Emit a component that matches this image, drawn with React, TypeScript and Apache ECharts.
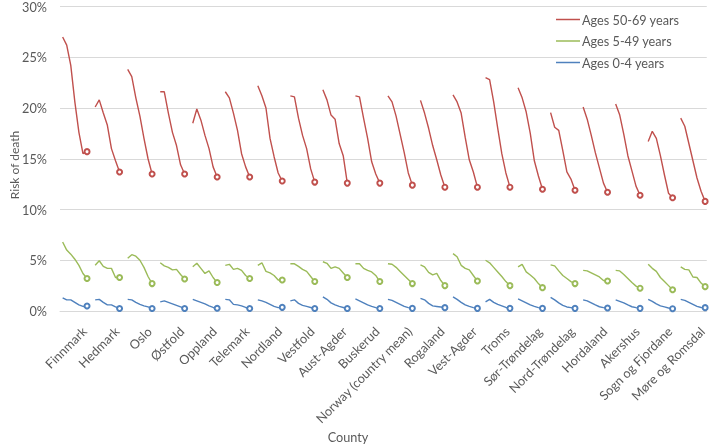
import React, { useEffect, useRef } from "react";
import * as echarts from "echarts";

const counties = [
  "Finnmark",
  "Hedmark",
  "Oslo",
  "Østfold",
  "Oppland",
  "Telemark",
  "Nordland",
  "Vestfold",
  "Aust-Agder",
  "Buskerud",
  "Norway (country mean)",
  "Rogaland",
  "Vest-Agder",
  "Troms",
  "Sør-Trøndelag",
  "Nord-Trøndelag",
  "Hordaland",
  "Akershus",
  "Sogn og Fjordane",
  "Møre og Romsdal",
];

const seriesNames = ["Ages 50-69 years", "Ages 5-49 years", "Ages 0-4 years"];
const seriesColors = ["#C0504D", "#9BBB59", "#4F81BD"];

const yTicks = [0, 5, 10, 15, 20, 25, 30];

// Risk of death (%), 7 points per county, in county order
const ages50to69 = [
  [27.0, 26.2, 24.2, 20.6, 17.6, 15.5, 15.7],
  [20.1, 20.8, 19.5, 18.3, 16.0, 14.8, 13.7],
  [23.8, 23.1, 21.0, 19.2, 17.0, 15.0, 13.5],
  [21.6, 21.6, 19.5, 17.6, 16.3, 14.4, 13.5],
  [18.5, 19.9, 18.8, 17.3, 16.0, 14.2, 13.2],
  [21.6, 21.0, 19.5, 17.8, 15.5, 14.2, 13.2],
  [22.2, 21.2, 20.0, 17.0, 15.2, 13.6, 12.8],
  [21.2, 21.1, 19.0, 17.3, 16.0, 14.0, 12.7],
  [21.8, 20.8, 19.3, 18.9, 16.5, 15.3, 12.6],
  [21.2, 21.1, 19.0, 17.0, 14.7, 13.5, 12.6],
  [21.2, 20.6, 19.2, 17.4, 15.6, 13.6, 12.4],
  [20.75, 19.5, 18.0, 16.3, 14.9, 13.4, 12.2],
  [21.3, 20.6, 19.5, 17.1, 14.9, 13.7, 12.2],
  [23.0, 22.8, 20.6, 18.0, 15.5, 13.6, 12.2],
  [22.0, 21.0, 19.6, 17.5, 14.8, 13.3, 12.0],
  [19.55, 18.1, 17.8, 15.8, 13.7, 13.0, 11.9],
  [20.1, 18.9, 17.3, 15.6, 14.1, 12.6, 11.7],
  [20.4, 19.3, 17.4, 15.3, 13.8, 12.3, 11.4],
  [16.7, 17.7, 17.0, 15.3, 13.4, 11.6, 11.15],
  [19.0, 18.2, 16.5, 14.8, 13.1, 11.8, 10.8],
];

const ages5to49 = [
  [6.8, 6.0, 5.6, 5.1, 4.5, 3.7, 3.2],
  [4.5, 4.95, 4.4, 4.2, 4.2, 3.3, 3.3],
  [5.2, 5.55, 5.4, 5.0, 4.3, 3.4, 2.7],
  [4.75, 4.45, 4.3, 4.05, 4.1, 3.6, 3.15],
  [4.35, 4.7, 4.2, 3.7, 3.95, 3.3, 2.8],
  [4.5, 4.6, 4.1, 4.2, 4.0, 3.5, 3.2],
  [4.5, 4.75, 3.9, 3.75, 3.5, 3.05, 3.05],
  [4.65, 4.65, 4.4, 4.1, 3.9, 3.4, 2.9],
  [4.85, 4.7, 4.2, 4.35, 4.2, 3.75, 3.3],
  [4.65, 4.65, 4.2, 4.0, 3.85, 3.5, 2.9],
  [4.65, 4.6, 4.3, 3.9, 3.5, 3.1, 2.7],
  [4.55, 4.35, 3.8, 3.55, 3.7, 3.0, 2.5],
  [5.65, 5.35, 4.5, 4.2, 4.05, 3.5, 2.95],
  [5.0, 4.75, 4.3, 3.85, 3.4, 2.9, 2.5],
  [4.35, 4.6, 3.85, 3.55, 3.2, 2.7, 2.3],
  [4.55, 4.45, 3.95, 3.5, 3.2, 2.9, 2.7],
  [4.0, 3.95, 3.75, 3.55, 3.35, 3.0, 2.95],
  [4.0, 3.95, 3.6, 3.2, 2.8, 2.45, 2.25],
  [4.6, 4.2, 3.9, 3.3, 2.9, 2.5, 2.1],
  [4.35, 4.1, 4.05, 3.35, 3.3, 2.75, 2.4],
];

const ages0to4 = [
  [1.3, 1.1, 1.1, 0.85, 0.6, 0.45, 0.5],
  [1.1, 1.15, 0.85, 0.6, 0.6, 0.4, 0.25],
  [1.15, 1.1, 0.85, 0.65, 0.5, 0.4, 0.25],
  [0.9, 1.0, 0.85, 0.7, 0.55, 0.4, 0.25],
  [1.15, 1.0, 0.85, 0.7, 0.5, 0.35, 0.27],
  [1.15, 1.1, 0.65, 0.6, 0.5, 0.35, 0.25],
  [1.1, 1.0, 0.85, 0.65, 0.45, 0.33, 0.36],
  [1.0, 1.1, 0.75, 0.55, 0.45, 0.35, 0.25],
  [1.4, 1.15, 0.8, 0.6, 0.45, 0.35, 0.25],
  [1.2, 1.0, 0.8, 0.6, 0.45, 0.33, 0.25],
  [1.15, 1.05, 0.85, 0.65, 0.45, 0.33, 0.26],
  [1.25, 1.1, 0.75, 0.5, 0.45, 0.4, 0.33],
  [1.4, 1.15, 0.85, 0.6, 0.45, 0.33, 0.26],
  [0.9, 1.15, 0.85, 0.65, 0.5, 0.35, 0.26],
  [1.2, 1.0, 0.8, 0.6, 0.45, 0.33, 0.26],
  [1.35, 1.1, 0.8, 0.55, 0.4, 0.33, 0.26],
  [1.1, 1.0, 0.8, 0.6, 0.42, 0.33, 0.29],
  [1.1, 0.95, 0.8, 0.6, 0.42, 0.33, 0.26],
  [1.15, 0.95, 0.7, 0.5, 0.4, 0.3, 0.23],
  [1.15, 1.05, 0.85, 0.65, 0.45, 0.35, 0.33],
];

const SLOT = 8; // 7 points + 1 gap per county
const POINTS = 7;
const LABEL_OFFSET = 5.3;
const FONT = "Lato";
const FONT_SIZE = 12.7;
const TEXT_COLOR = "#595959";

function buildData(rows: number[][]) {
  const out: any[] = [];
  rows.forEach((row, i) => {
    row.forEach((v, j) => out.push([i * SLOT + j, v]));
    out.push([i * SLOT + row.length, "-"]);
  });
  return out;
}

export default function App() {
  const ref = useRef<HTMLDivElement>(null);

  useEffect(() => {
    if (!ref.current) return;
    const chart = echarts.init(ref.current, undefined, { renderer: "svg" });
    const allRows = [ages50to69, ages5to49, ages0to4];
    const option: any = {
      animation: false,
      textStyle: { fontFamily: FONT },
      grid: { left: 60, right: 1, top: 5, bottom: 135, containLabel: false },
      legend: {
        orient: "vertical",
        left: 556,
        top: 13,
        padding: 0,
        icon: "rect",
        itemWidth: 24,
        itemHeight: 1.5,
        itemGap: 8.5,
        textStyle: {
          fontFamily: FONT,
          fontSize: FONT_SIZE,
          color: TEXT_COLOR,
          padding: [0, 0, 0, -3],
        },
        data: seriesNames,
      },
      xAxis: {
        type: "value",
        min: -0.65,
        max: (counties.length - 1) * SLOT + POINTS - 1 + 0.4,
        axisLine: { show: true, lineStyle: { color: "#D9D9D9", width: 1 } },
        axisTick: { show: false },
        splitLine: { show: false },
        axisLabel: {
          customValues: counties.map((_, i) => i * SLOT + LABEL_OFFSET),
          rotate: 45,
          margin: 18,
          fontFamily: FONT,
          fontSize: FONT_SIZE,
          color: TEXT_COLOR,
          formatter: (v: number) => counties[Math.round((v - LABEL_OFFSET) / SLOT)] ?? "",
        },
      },
      yAxis: {
        type: "value",
        min: yTicks[0],
        max: yTicks[yTicks.length - 1],
        interval: yTicks[1] - yTicks[0],
        axisLine: { show: false },
        axisTick: { show: false },
        splitLine: { lineStyle: { color: "#D9D9D9", width: 1 } },
        axisLabel: {
          margin: 13,
          fontFamily: FONT,
          fontSize: FONT_SIZE,
          color: TEXT_COLOR,
          formatter: (v: number) => `${v}%`,
        },
      },
      graphic: [
        {
          type: "text",
          x: 14,
          y: 165,
          rotation: Math.PI / 2,
          style: {
            text: "Risk of death",
            fontFamily: FONT,
            fontSize: 12,
            fill: TEXT_COLOR,
            align: "center",
            verticalAlign: "middle",
          },
        },
        {
          type: "text",
          x: 348,
          y: 437,
          style: {
            text: "County",
            fontFamily: FONT,
            fontSize: FONT_SIZE,
            fill: TEXT_COLOR,
            align: "center",
            verticalAlign: "middle",
          },
        },
      ],
      series: seriesNames.map((name, k) => ({
        name,
        type: "line",
        data: buildData(allRows[k]),
        connectNulls: false,
        color: seriesColors[k],
        lineStyle: { color: seriesColors[k], width: 1.4 },
        symbol: (_v: any, params: any) =>
          params.dataIndex % SLOT === POINTS - 1 ? "emptyCircle" : "none",
        symbolSize: 5,
        showSymbol: true,
        itemStyle: { color: seriesColors[k], borderWidth: 1 },
        emphasis: { disabled: true },
      })),
    };
    chart.setOption(option);
    return () => chart.dispose();
  }, []);

  return (
    <div
      ref={ref}
      style={{ position: "fixed", left: 0, top: 0, width: 709, height: 446 }}
    />
  );
}
